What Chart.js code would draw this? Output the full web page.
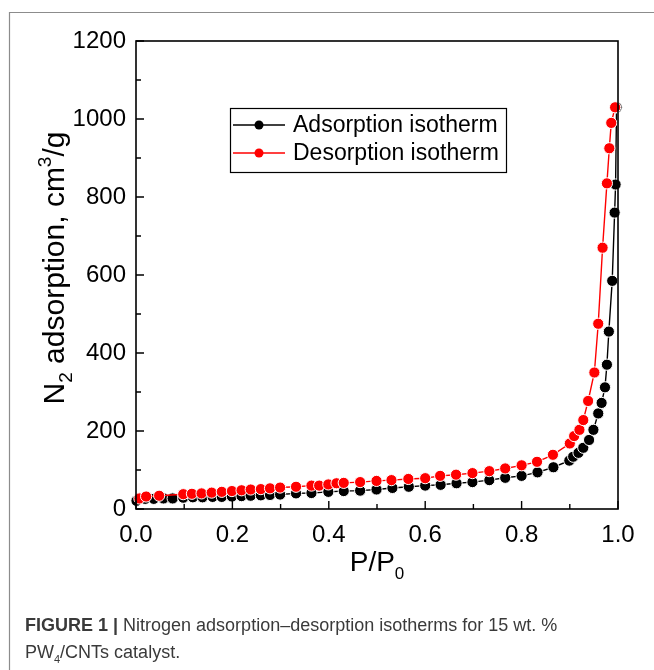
<!DOCTYPE html>
<html><head><meta charset="utf-8">
<script src="https://cdn.jsdelivr.net/npm/chart.js@4"></script>
<style>html,body{margin:0;padding:0;background:#fff;}canvas{display:block}</style>
</head><body>
<canvas id="c" width="654" height="670"></canvas>
<script>
// ---- data ----
const seriesNames = ['Adsorption isotherm', 'Desorption isotherm'];
const adsX = [0.001,0.019,0.037,0.057,0.076,0.098,0.118,0.138,0.159,0.178,0.199,0.219,0.238,0.259,0.278,0.299,0.332,0.364,0.399,0.431,0.465,0.499,0.532,0.566,0.600,0.632,0.665,0.698,0.733,0.766,0.800,0.833,0.866,0.899,0.907,0.918,0.928,0.940,0.949,0.959,0.966,0.973,0.977,0.981,0.988,0.993,0.995,0.997];
const adsY = [21,26,26,27,27,29,30,30,31,31,32,33,34,35,36,37,40,41,44,46,47,50,54,57,60,62,66,69,74,80,85,94,107,124,134,144,157,177,203,245,272,312,370,455,585,760,832,1030];
const desX = [0.007,0.021,0.048,0.098,0.116,0.136,0.157,0.178,0.199,0.219,0.238,0.259,0.278,0.299,0.332,0.364,0.380,0.399,0.416,0.431,0.465,0.499,0.530,0.565,0.600,0.631,0.664,0.698,0.733,0.766,0.800,0.832,0.865,0.900,0.909,0.920,0.928,0.938,0.951,0.959,0.968,0.977,0.982,0.986,0.994];
const desY = [27,32,34,38,39,40,42,44,46,48,50,51,53,55,57,60,60,63,66,67,69,72,74,77,79,85,88,92,97,104,112,121,139,168,187,203,228,277,350,475,670,835,925,990,1030];
const xMajor = [0, 0.2, 0.4, 0.6, 0.8, 1.0];
const xMinor = [0.1, 0.3, 0.5, 0.7, 0.9];
const yMajor = [0, 200, 400, 600, 800, 1000, 1200];
const yMinor = [100, 300, 500, 700, 900, 1100];
const xTitle = ['P/P', '0'];
const yTitle = [['N', 'n'], ['2', 'sub'], [' adsorption, cm', 'n'], ['3', 'sup'], ['/g', 'n']];
const captionBold = 'FIGURE 1 | ';
const captionLine1 = 'Nitrogen adsorption\u2013desorption isotherms for 15 wt. %';
const captionLine2 = [['PW', 'n'], ['4', 'sub'], ['/CNTs catalyst.', 'n']];

const FONT = '"Liberation Sans", Arial, sans-serif';
const toPts = (xs, ys) => xs.map((x, i) => ({x, y: ys[i]}));

function drawRich(ctx, parts, size, x, y, align) {
  const w = parts.map(([t, k]) => { ctx.font = (k === 'n' ? size : Math.round(size * 0.62)) + 'px ' + FONT; return ctx.measureText(t).width; });
  const total = w.reduce((s, v) => s + v, 0);
  let cx = align === 'center' ? x - total / 2 : x;
  parts.forEach(([t, k], i) => {
    ctx.font = (k === 'n' ? size : Math.round(size * 0.62)) + 'px ' + FONT;
    const dy = k === 'sub' ? size * 0.28 : (k === 'sup' ? -size * 0.42 : 0);
    ctx.fillText(t, cx, y + dy);
    cx += w[i];
  });
}

const decor = {
  id: 'decor',
  afterDraw(chart) {
    const ctx = chart.ctx, a = chart.chartArea, xs = chart.scales.x, ys = chart.scales.y;
    ctx.save();
    // outer figure frame
    ctx.strokeStyle = '#8c8c8c'; ctx.lineWidth = 1.2;
    ctx.beginPath(); ctx.moveTo(9.5, 670); ctx.lineTo(9.5, 12.5); ctx.lineTo(654, 12.5); ctx.stroke();
    // plot box
    ctx.strokeStyle = '#000'; ctx.lineWidth = 1.6;
    ctx.strokeRect(a.left, a.top, a.right - a.left, a.bottom - a.top);
    // inward ticks
    ctx.lineWidth = 1.4; ctx.beginPath();
    xMajor.forEach(v => { const p = xs.getPixelForValue(v); ctx.moveTo(p, a.bottom); ctx.lineTo(p, a.bottom - 8); });
    xMinor.forEach(v => { const p = xs.getPixelForValue(v); ctx.moveTo(p, a.bottom); ctx.lineTo(p, a.bottom - 5); });
    yMajor.forEach(v => { const p = ys.getPixelForValue(v); ctx.moveTo(a.left, p); ctx.lineTo(a.left + 8, p); });
    yMinor.forEach(v => { const p = ys.getPixelForValue(v); ctx.moveTo(a.left, p); ctx.lineTo(a.left + 5, p); });
    ctx.stroke();
    // legend
    const lx = 230, ly = 108, lw = 276, lh = 64;
    ctx.lineWidth = 1.2; ctx.strokeStyle = '#000';
    ctx.strokeRect(lx + 0.5, ly + 0.5, lw, lh);
    ctx.textBaseline = 'middle'; ctx.textAlign = 'left';
    ctx.font = '23px ' + FONT;
    chart.data.datasets.slice().sort((p, q) => p.legendOrder - q.legendOrder).forEach((ds, i) => {
      const yy = ly + 17 + i * 28;
      ctx.strokeStyle = ds.borderColor; ctx.lineWidth = 1.5;
      ctx.beginPath(); ctx.moveTo(lx + 3, yy); ctx.lineTo(lx + 55, yy); ctx.stroke();
      ctx.fillStyle = ds.pointBackgroundColor;
      ctx.beginPath(); ctx.arc(lx + 29, yy, 4.5, 0, Math.PI * 2); ctx.fill();
      ctx.fillStyle = '#000';
      ctx.fillText(ds.label, lx + 63, yy + 1);
    });
    // axis titles
    ctx.fillStyle = '#000'; ctx.textBaseline = 'alphabetic';
    drawRich(ctx, [[xTitle[0], 'n'], [xTitle[1], 'sub']], 28, (a.left + a.right) / 2, 571, 'center');
    ctx.save();
    ctx.translate(64, 268); ctx.rotate(-Math.PI / 2);
    drawRich(ctx, yTitle, 30, 0, 0, 'center');
    ctx.restore();
    // caption
    ctx.fillStyle = '#3a3a3a';
    ctx.font = 'bold 18px ' + FONT;
    ctx.fillText(captionBold, 25, 631);
    const bw = ctx.measureText(captionBold).width;
    ctx.font = '18px ' + FONT;
    ctx.fillText(captionLine1, 25 + bw, 631);
    drawRich(ctx, captionLine2, 18, 25, 658, 'left');
    ctx.restore();
  }
};

new Chart(document.getElementById('c'), {
  type: 'scatter',
  data: {
    datasets: [
      { label: seriesNames[0], data: toPts(adsX, adsY), showLine: true, borderColor: '#000', borderWidth: 1.4,
        pointBackgroundColor: '#000', pointBorderColor: '#fff', pointBorderWidth: 1, pointRadius: 5.6,
        order: 1, legendOrder: 0, clip: false },
      { label: seriesNames[1], data: toPts(desX, desY), showLine: true, borderColor: '#f00', borderWidth: 1.4,
        pointBackgroundColor: '#f00', pointBorderColor: '#fff', pointBorderWidth: 1, pointRadius: 5.6,
        order: 0, legendOrder: 1, clip: false }
    ]
  },
  options: {
    responsive: false, animation: false, devicePixelRatio: 1,
    layout: { padding: { left: 0, top: 41, right: 36, bottom: 0 } },
    plugins: { legend: { display: false }, tooltip: { enabled: false } },
    scales: {
      x: {
        type: 'linear', min: 0, max: 1.0,
        grid: { display: false, drawTicks: false }, border: { display: false },
        ticks: { stepSize: 0.2, padding: 12, color: '#000', font: { family: FONT, size: 24 },
                 callback: v => Number(v).toFixed(1), maxRotation: 0 },
        afterFit: s => { s.height = 161; }
      },
      y: {
        min: 0, max: 1200,
        grid: { display: false, drawTicks: false }, border: { display: false },
        ticks: { stepSize: 200, padding: 10, color: '#000', font: { family: FONT, size: 24 },
                 callback: v => String(Math.round(v)) },
        afterFit: s => { s.width = 136; }
      }
    }
  },
  plugins: [decor]
});
</script>
</body></html>
